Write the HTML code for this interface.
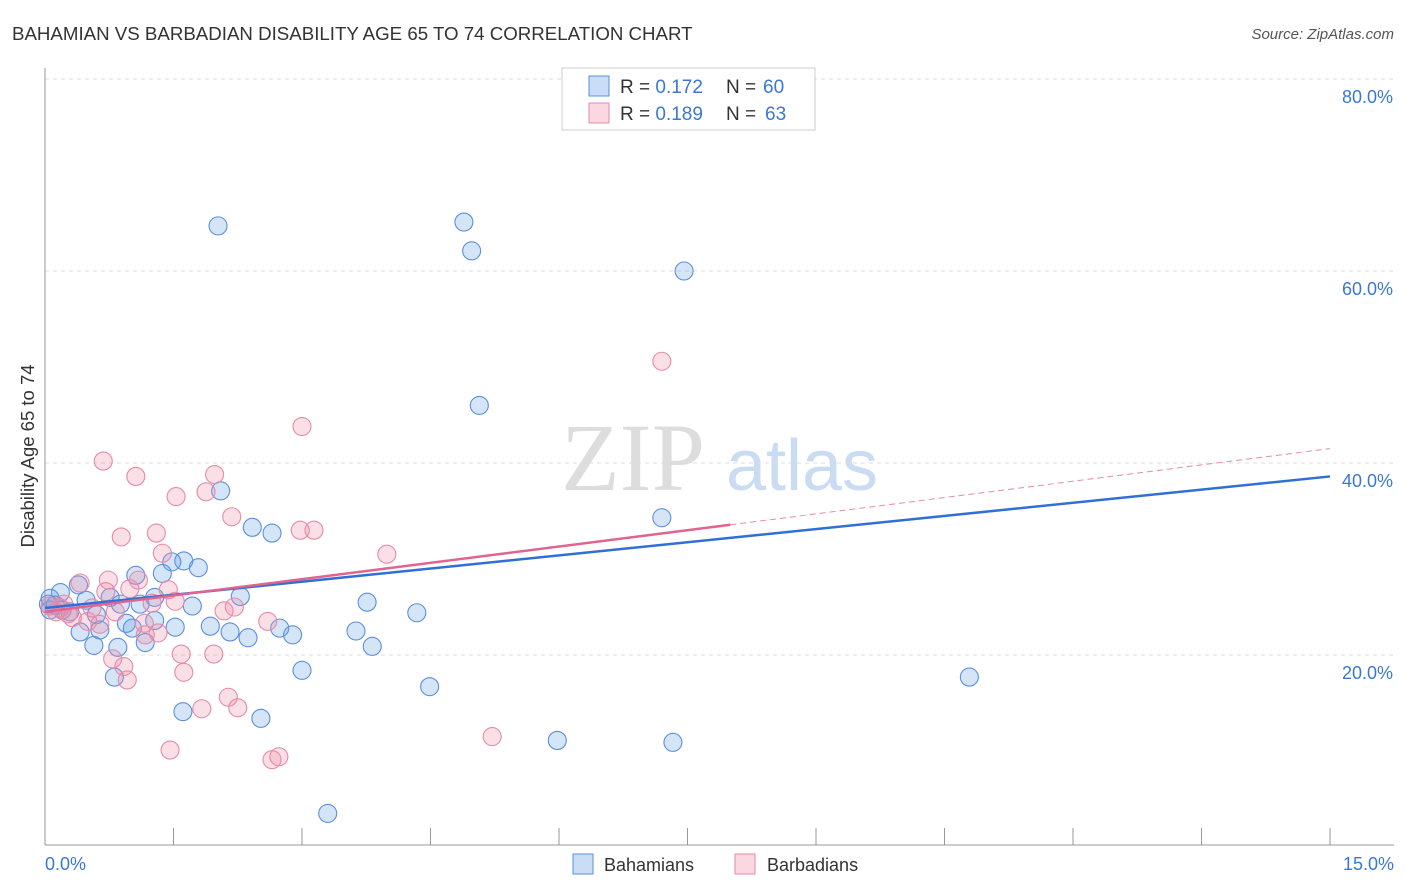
<!DOCTYPE html>
<html><head><meta charset="utf-8"><style>
body{margin:0;background:#fff;font-family:"Liberation Sans",sans-serif}
#wrap{position:relative;width:1406px;height:892px;overflow:hidden}
</style></head><body><div id="wrap">
<svg id="svg" width="1406" height="892" xmlns="http://www.w3.org/2000/svg">
<text x="12" y="40" font-size="18.7" fill="#333">BAHAMIAN VS BARBADIAN DISABILITY AGE 65 TO 74 CORRELATION CHART</text>
<text x="1394" y="39" font-size="15" fill="#555" font-style="italic" text-anchor="end">Source: ZipAtlas.com</text>
<text x="34" y="456" font-size="18.5" fill="#333" text-anchor="middle" transform="rotate(-90 34 456)">Disability Age 65 to 74</text>
<g><text x="633" y="490" font-size="96" fill="#ddd" font-family="Liberation Serif,serif" text-anchor="middle">ZIP</text><text x="802" y="490" font-size="72" fill="#c9dcf2" text-anchor="middle">atlas</text></g>
<g id="grid"></g><g id="marks"></g><g id="lines"></g>
<g>
<rect x="562" y="68" width="253" height="62" fill="#fff" stroke="#ccc"/>
<rect x="589" y="76" width="20" height="20" fill="rgba(100,160,230,0.35)" stroke="#5b8fdc"/>
<rect x="589" y="103" width="20" height="20" fill="rgba(240,140,170,0.35)" stroke="#e68aa8"/>
<text x="620" y="93" font-size="19" fill="#333">R = <tspan fill="#3a78d4">0.172</tspan></text>
<text x="726" y="93" font-size="19" fill="#333">N = <tspan fill="#3a78d4" x="763">60</tspan></text>
<text x="620" y="120" font-size="19" fill="#333">R = <tspan fill="#3a78d4">0.189</tspan></text>
<text x="726" y="120" font-size="19" fill="#333">N = <tspan fill="#3a78d4" x="765">63</tspan></text>
</g>
<g>
<rect x="573" y="854" width="20" height="20" fill="rgba(100,160,230,0.35)" stroke="#5b8fdc"/>
<text x="604" y="871" font-size="18" fill="#333">Bahamians</text>
<rect x="735" y="854" width="20" height="20" fill="rgba(240,140,170,0.35)" stroke="#e68aa8"/>
<text x="767" y="871" font-size="18" fill="#333">Barbadians</text>
</g>
</svg></div>
<script>
const yTicks=[20,40,60,80];
const xTickLabels=["0.0%","15.0%"];
const blueX=[2.02,4.89,4.98,7.46,5.07,7.20,2.05,2.42,2.65,1.62,1.48,1.79,1.06,1.37,0.18,0.39,0.76,0.88,1.11,1.28,1.72,2.28,0.48,0.06,0.20,0.29,0.60,0.64,0.41,0.57,0.95,1.02,1.28,1.52,1.93,2.16,2.37,2.74,2.89,0.85,1.17,3.63,3.82,3.76,4.34,3.00,0.81,1.61,2.52,4.49,5.98,7.33,10.79,3.30,0.06,0.12,0.04];
const blueY=[64.7,65.1,62.1,60.0,46.0,34.3,37.1,33.3,32.7,29.8,29.7,29.1,28.3,28.5,26.5,27.3,26.0,25.3,25.3,26.0,25.1,26.1,25.7,25.9,24.7,24.5,24.2,22.6,22.4,21.0,23.3,22.8,23.6,22.9,23.0,22.4,21.8,22.8,22.1,20.8,21.3,22.5,20.9,25.5,24.4,18.4,17.7,14.1,13.4,16.7,11.1,10.9,17.7,3.5,24.7,25.2,25.3];
const pinkX=[7.20,3.00,0.68,1.06,1.98,1.53,1.88,2.18,0.89,1.30,2.98,3.14,3.99,1.37,0.41,0.74,1.09,1.44,0.99,0.71,1.52,1.25,0.55,2.21,2.09,0.82,0.27,0.18,0.32,0.64,0.50,2.60,1.17,1.32,1.16,0.79,0.92,0.96,1.59,1.62,1.97,2.14,2.25,1.83,1.46,2.65,2.73,5.22,0.06,0.13,0.22];
const pinkY=[50.6,43.8,40.2,38.6,38.8,36.5,37.0,34.4,32.3,32.7,33.0,33.0,30.5,30.6,27.5,27.8,27.8,26.8,26.9,26.6,25.6,25.4,24.9,25.0,24.6,24.5,24.3,24.9,23.9,23.2,23.5,23.5,22.1,22.3,23.3,19.6,18.8,17.4,20.1,18.2,20.1,15.6,14.5,14.4,10.1,9.1,9.4,11.5,25.1,24.5,25.3];
const blueTrend=[24.9,38.6];
const pinkTrend=[24.5,41.5];
const pinkSolidEnd=8.0;
const X=v=>45+v/15*1285, Y=v=>847-v*9.6;
const NS="http://www.w3.org/2000/svg";
function mk(t,a,p){const e=document.createElementNS(NS,t);for(const k in a)e.setAttribute(k,a[k]);p.appendChild(e);return e;}
const g=document.getElementById('grid');
yTicks.forEach(t=>{
 const l=mk('line',{x1:45,x2:1394,y1:Y(t),y2:Y(t),stroke:'#ddd','stroke-dasharray':'4,4'},g);
 
 
 const tx=mk('text',{x:1393,y:Y(t)+24,'font-size':18,fill:'#3a78d4','text-anchor':'end'},g);tx.textContent=t.toFixed(1)+'%';
 
 
});
mk('line',{x1:45,x2:45,y1:68,y2:845,stroke:'#999'},g);
mk('line',{x1:45,x2:1394,y1:845,y2:845,stroke:'#999'},g);
for(let i=0;i<=10;i++){mk('line',{x1:X(i*1.5),x2:X(i*1.5),y1:828,y2:845,stroke:'#999'},g);}
const xl0=mk('text',{x:45,y:870,'font-size':18,fill:'#3a78d4'},g);xl0.textContent=xTickLabels[0];


const xl1=mk('text',{x:1394,y:870,'font-size':18,fill:'#3a78d4','text-anchor':'end'},g);xl1.textContent=xTickLabels[1];


const m=document.getElementById('marks');
blueX.forEach((v,i)=>{const c=mk('circle',{cx:X(v),cy:Y(blueY[i]),r:9,fill:'rgba(100,160,230,0.28)',stroke:'#5b8fdc','stroke-width':1.1},m);
 
 });
pinkX.forEach((v,i)=>{const c=mk('circle',{cx:X(v),cy:Y(pinkY[i]),r:9,fill:'rgba(240,140,170,0.28)',stroke:'#e68aa8','stroke-width':1.1},m);
 
 });
const L=document.getElementById('lines');
const pAt=x=>pinkTrend[0]+(pinkTrend[1]-pinkTrend[0])*x/15;
const d=mk('line',{x1:X(pinkSolidEnd),y1:Y(pAt(pinkSolidEnd)),x2:X(15),y2:Y(pinkTrend[1]),stroke:'#e68aa8','stroke-dasharray':'6,4','stroke-width':1},L);


const b=mk('line',{x1:X(0),y1:Y(blueTrend[0]),x2:X(15),y2:Y(blueTrend[1]),stroke:'#2f6fd6','stroke-width':2.5},L);


const p=mk('line',{x1:X(0),y1:Y(pinkTrend[0]),x2:X(pinkSolidEnd),y2:Y(pAt(pinkSolidEnd)),stroke:'#e0648f','stroke-width':2.5},L);


</script></body></html>
